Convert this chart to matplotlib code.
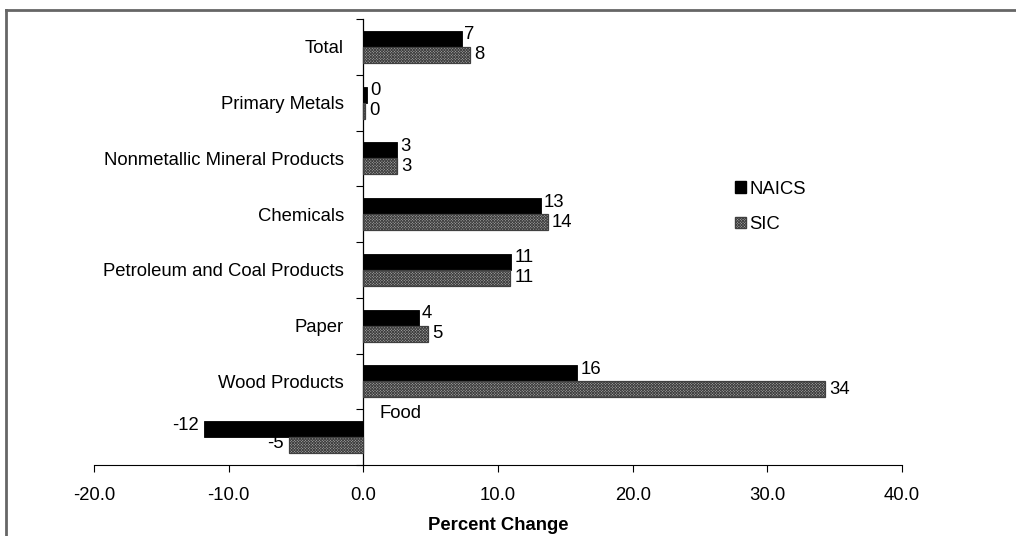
import matplotlib
matplotlib.use("Agg")
import matplotlib.pyplot as plt
import numpy as np
from matplotlib.patches import Patch
from matplotlib.lines import Line2D

categories = ["Total", "Primary Metals", "Nonmetallic Mineral Products", "Chemicals",
              "Petroleum and Coal Products", "Paper", "Wood Products", "Food"]
naics = [7.3, 0.3, 2.5, 13.2, 11.0, 4.1, 15.9, -11.8]
sic = [7.9, 0.1, 2.5, 13.7, 10.9, 4.8, 34.3, -5.5]
naics_labels = ["7", "0", "3", "13", "11", "4", "16", "-12"]
sic_labels = ["8", "0", "3", "14", "11", "5", "34", "-5"]
xticks = [-20, -10, 0, 10, 20, 30, 40]

plt.rcParams['font.family'] = ['Liberation Sans', 'DejaVu Sans']
plt.rcParams['hatch.linewidth'] = 0.6
FS = 13.3
SIC_FACE = '#a6a6a6'
SIC_EDGE = '#404040'
HATCH = 'x' * 12

fig = plt.figure(figsize=(10.16, 5.36), dpi=100)
ax = fig.add_axes([94/1016, 1-465/536, (902-94)/1016, (465-19)/536])

for s in ['top', 'right']:
    ax.spines[s].set_visible(False)
ax.spines['left'].set_position(('data', 0))
ax.spines['left'].set_linewidth(0.9)
ax.spines['bottom'].set_linewidth(0.8)

y = np.arange(len(categories))
h = 0.285
ax.barh(y - h/2, naics, height=h, color='black', edgecolor='black', linewidth=0.6, zorder=3)
ax.barh(y + h/2, sic, height=h, color=SIC_FACE, edgecolor=SIC_EDGE, hatch=HATCH,
        linewidth=0.9, zorder=3)

for i in range(len(categories)):
    v = naics[i]
    if v >= 0:
        ax.annotate(naics_labels[i], (v, y[i] - h/2), xytext=(2, 3), textcoords='offset points',
                    ha='left', va='center', fontsize=FS)
    else:
        ax.annotate(naics_labels[i], (v, y[i] - h/2), xytext=(-4, 3), textcoords='offset points',
                    ha='right', va='center', fontsize=FS)
    v = sic[i]
    if v >= 0:
        ax.annotate(sic_labels[i], (v, y[i] + h/2), xytext=(3, 0), textcoords='offset points',
                    ha='left', va='center', fontsize=FS)
    else:
        ax.annotate(sic_labels[i], (v, y[i] + h/2), xytext=(-4, 1), textcoords='offset points',
                    ha='right', va='center', fontsize=FS)

ax.set_xlim(-20, 40)
ax.set_ylim(len(categories) - 0.5, -0.5)
ax.set_xticks(xticks)
ax.set_xticklabels([f"{t:.1f}" for t in xticks], fontsize=FS)
ax.set_yticks(y)
ax.set_yticklabels(categories[:-1] + [""], fontsize=FS)
ax.tick_params(axis='y', which='major', length=0, pad=14)
ax.set_yticks(np.arange(-0.5, len(categories), 1.0), minor=True)
ax.tick_params(axis='y', which='minor', length=5, width=0.8, direction='out')
ax.tick_params(axis='x', length=5, width=0.8, direction='out', pad=11)
ax.text(1.2, 7 - 0.43, "Food", fontsize=FS, ha='left', va='center')

ax.set_xlabel("Percent Change", fontsize=FS, fontweight='bold', labelpad=9)

handles = [Patch(facecolor='black', edgecolor='black'),
           Patch(facecolor=SIC_FACE, edgecolor=SIC_EDGE, hatch=HATCH)]
ax.legend(handles, ["NAICS", "SIC"], loc='upper left', bbox_to_anchor=(718/1016, 1-164/536),
          bbox_transform=fig.transFigure, frameon=False, fontsize=FS,
          handlelength=0.6, handleheight=0.6, handletextpad=0.2, labelspacing=1.0)

# figure frame (left and top)
fig.add_artist(Line2D([6/1016, 6/1016], [0, 1-10/536], color='#666666', linewidth=2, transform=fig.transFigure))
fig.add_artist(Line2D([6/1016, 1], [1-10/536, 1-10/536], color='#666666', linewidth=2, transform=fig.transFigure))

fig.savefig("out.png", dpi=100)
